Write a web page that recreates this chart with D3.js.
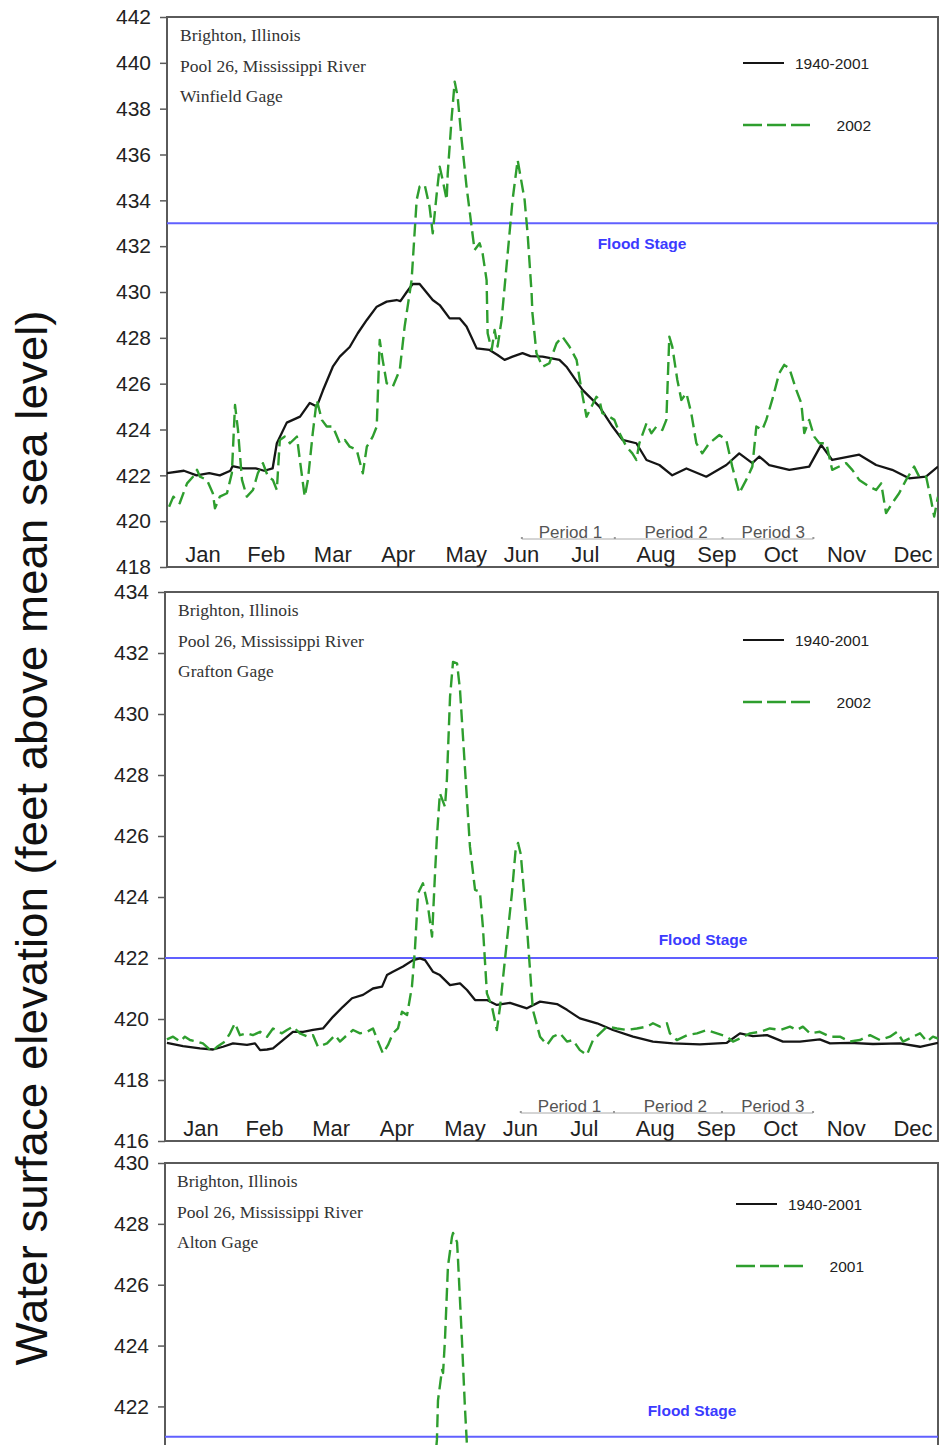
<!DOCTYPE html>
<html><head><meta charset="utf-8">
<script src="https://cdn.jsdelivr.net/npm/d3@7"></script>
<style>body{margin:0;background:#fff} svg{display:block}</style>
</head><body>
<script>
// ---------- DATA ----------
const months = ["Jan","Feb","Mar","Apr","May","Jun","Jul","Aug","Sep","Oct","Nov","Dec"];
const monthLabelDays = [17, 47, 78.5, 109.5, 141.7, 167.8, 198, 231.5, 260.3, 290.6, 321.7, 353.2];
const periodNames = ["Period 1", "Period 2", "Period 3"];
const periodBounds = [168, 212, 263, 306];
const periodLabelDays = [191, 241, 287];

const winfieldTicks = [418,420,422,424,426,428,430,432,434,436,438,440,442];
const graftonTicks = [416,418,420,422,424,426,428,430,432,434];
const altonTicks = [422,424,426,428,430];   // lower ticks fall below the cropped picture

const winfieldFlood = 433, graftonFlood = 422, altonFlood = 421;

// [day of year, elevation ft]
const winfieldAvg = [[0,422.1],[8,422.2],[14,422.0],[20,422.1],[25,422.0],[30,422.2],[31,422.4],[36,422.3],[42,422.3],[46,422.2],[50,422.3],[52,423.4],[56.7,424.3],[63,424.56],[67.6,425.16],[70.9,425.0],[73.8,425.7],[78.5,426.74],[81.8,427.18],[86.5,427.6],[90.3,428.2],[94.6,428.78],[99.3,429.36],[104,429.58],[108.7,429.65],[110.5,429.6],[113.5,430.0],[116.3,430.35],[119.6,430.35],[125.8,429.65],[129.1,429.43],[133.8,428.85],[138.5,428.85],[141.8,428.49],[146.6,427.54],[152.7,427.47],[156.5,427.25],[159.8,427.04],[163.6,427.18],[168.3,427.33],[172,427.2],[177.8,427.18],[185.8,427.04],[189.1,426.74],[196.7,425.73],[204.7,425.0],[210.9,424.13],[215.6,423.55],[222.2,423.4],[227,422.67],[233.1,422.45],[239.2,422.0],[245.9,422.3],[255.3,421.94],[264.8,422.45],[270.9,422.96],[277.1,422.53],[280.4,422.82],[285.1,422.45],[294.6,422.24],[304,422.38],[309.7,423.33],[314.9,422.67],[327.7,422.9],[335.7,422.45],[343.3,422.24],[351.3,421.87],[359.3,421.94],[365,422.38]];

const winfield2002 = [[1,420.63],[3,421.07],[6,420.78],[9.5,421.65],[12.3,421.94],[14.2,422.24],[15.6,421.94],[18.9,421.8],[21.7,421.22],[22.7,420.56],[25,421.07],[28.4,421.22],[30.7,422.09],[32.2,425.07],[33.6,423.98],[35.5,421.8],[37.8,421.07],[40.7,421.36],[43,422.09],[45.4,422.53],[47.8,421.94],[50.1,421.8],[52,421.36],[53.4,423.54],[55.8,423.69],[58.2,423.4],[61.5,423.69],[62.9,422.67],[65.2,421.07],[66.7,421.8],[69,423.84],[70.9,425.29],[73.3,424.42],[75.6,424.13],[78.5,424.13],[81.8,423.4],[84.2,423.54],[86.5,423.25],[89.8,423.11],[92.7,422.09],[94.6,423.25],[97.4,423.69],[99.3,424.13],[100.7,427.91],[102.1,427.04],[104,426.02],[106.9,425.87],[110.2,426.6],[112.5,428.49],[115.8,430.52],[118.2,434.02],[119.6,434.6],[122,434.67],[124.3,433.72],[125.8,432.56],[127.7,434.3],[129.1,435.47],[130.5,434.89],[132.4,434.02],[132.9,435.18],[134.8,437.65],[136.2,439.18],[137.6,438.52],[139.5,436.63],[141.8,434.6],[144.2,432.85],[145.6,431.83],[148,432.13],[149.4,431.69],[151.3,430.52],[151.8,428.2],[153.7,427.47],[155.1,428.34],[156.5,427.62],[158.4,428.78],[163.6,434.02],[166,435.76],[169.3,434.02],[170.7,432.56],[172.6,429.96],[173,429.08],[174.9,427.33],[177.8,426.74],[181,426.89],[184.4,427.76],[187.2,428.05],[190.5,427.62],[193.9,427.04],[196.2,425.73],[198.6,424.56],[201,425.0],[203.3,425.43],[204.7,425.3],[206.1,424.71],[209.5,424.56],[211.8,424.42],[214.2,423.84],[217.5,423.25],[220.3,422.96],[222.2,422.67],[223.6,423.4],[227,424.27],[229.3,423.84],[231.7,424.13],[234.5,423.98],[236.4,424.42],[237.8,428.05],[239.2,427.62],[241.6,426.16],[243.5,425.29],[245.9,425.58],[248.2,424.71],[250.6,423.4],[253.4,422.96],[256.7,423.4],[261.5,423.76],[264.8,423.54],[267.6,422.38],[270.9,421.22],[274.2,421.8],[277.1,422.38],[279,424.13],[281.8,423.98],[283.7,424.42],[286.5,425.29],[289.8,426.45],[292.2,426.82],[294.6,426.67],[297.9,425.73],[300.3,425.14],[301.7,423.84],[304,424.42],[306.4,423.69],[308.8,423.4],[312.1,423.4],[314.9,422.24],[321.5,422.53],[324.4,422.24],[327.7,421.8],[332.4,421.51],[335.7,421.36],[338.1,421.65],[340.4,420.35],[343.3,420.78],[346.6,421.22],[349.9,421.8],[353.7,422.38],[356.1,421.94],[359.4,421.94],[361.7,420.93],[363.2,420.2],[365,421.07]];

const graftonAvg = [[0.9,419.22],[8.5,419.11],[16.5,419.04],[22.7,419.0],[27.4,419.09],[32.1,419.2],[38.7,419.15],[42.5,419.2],[44.9,418.98],[48.2,419.0],[51,419.04],[55.7,419.31],[60.4,419.58],[65.2,419.58],[69.9,419.64],[74.6,419.69],[79.3,420.07],[84,420.4],[88.3,420.68],[93.5,420.79],[98.2,421.0],[102.5,421.06],[104.8,421.44],[107.6,421.55],[112.4,421.72],[117.1,421.93],[120.4,421.99],[122.8,421.93],[126.5,421.55],[129.8,421.44],[134.6,421.11],[139.3,421.17],[142.6,420.95],[146.4,420.62],[152,420.62],[156.7,420.46],[162.9,420.53],[170.9,420.35],[177.1,420.57],[185.1,420.49],[189.8,420.3],[195.9,420.02],[204,419.86],[211.5,419.64],[221,419.42],[230.4,419.26],[239.8,419.2],[252.6,419.17],[265.3,419.22],[271.5,419.53],[277.6,419.44],[284.3,419.47],[291.8,419.26],[299.8,419.26],[309.2,419.33],[314,419.2],[323.4,419.22],[334.3,419.18],[347,419.2],[356.5,419.09],[365,419.22]];

const grafton2002 = [[0.9,419.33],[3.8,419.42],[7.1,419.26],[9.4,419.42],[11.8,419.31],[15.1,419.26],[17.9,419.2],[22.2,418.93],[24.6,419.09],[28.3,419.26],[30.7,419.53],[33,419.86],[35.4,419.47],[38.7,419.53],[41.5,419.47],[44.9,419.58],[48.2,419.42],[51,419.69],[55.2,419.53],[57.6,419.64],[60.4,419.75],[63.7,419.53],[67.5,419.42],[69.9,419.47],[72.2,419.09],[76.5,419.2],[80.3,419.47],[82.6,419.26],[85.9,419.47],[88.8,419.64],[92.1,419.53],[95.4,419.58],[98.2,419.69],[100.6,419.26],[102.9,418.87],[105.3,419.15],[107.6,419.53],[110,419.69],[111.9,420.24],[114.3,420.13],[116.6,421.06],[118,422.26],[119.5,424.12],[121.8,424.45],[124.2,423.68],[126.1,422.7],[127.5,424.78],[128.4,425.98],[129.8,427.4],[132.2,426.96],[133.1,427.84],[134.6,430.57],[136,431.71],[137.9,431.66],[139.3,430.79],[141.6,428.27],[144,425.65],[146.4,424.23],[148.7,424.17],[150.1,423.02],[152,420.84],[154.4,420.4],[156.7,419.64],[158.2,420.4],[160.5,421.93],[163.8,424.12],[165.5,425.5],[166.7,425.77],[168,425.4],[170.9,423.02],[173.7,420.3],[177.1,419.42],[180.4,419.15],[183.2,419.42],[186.5,419.53],[189.8,419.26],[192.6,419.31],[195.9,418.98],[199.2,418.82],[202.1,419.31],[205.4,419.53],[208.7,419.75],[213.4,419.69],[218.1,419.64],[222.8,419.69],[227.6,419.75],[230.4,419.86],[233.7,419.75],[237,419.86],[238.4,419.53],[241.7,419.31],[246.5,419.47],[251.2,419.53],[255.9,419.64],[260.6,419.53],[265.3,419.42],[268.2,419.26],[271.5,419.36],[276.2,419.53],[281,419.58],[285.6,419.69],[290.4,419.64],[295.1,419.75],[298.4,419.64],[301.2,419.75],[304.5,419.53],[309.2,419.58],[314,419.42],[318.7,419.42],[323.4,419.26],[328.1,419.31],[332.9,419.47],[337.6,419.31],[342.3,419.42],[345.6,419.58],[348.5,419.26],[353.2,419.42],[356.5,419.53],[359.8,419.26],[362.6,419.42],[365,419.36]];

// Alton: only the flood crest is visible in the picture; other values are rough estimates (below view)
const altonAvg = [[0,418.6],[60,418.8],[100,419.4],[120,419.9],[150,419.4],[200,418.9],[260,418.6],[365,418.6]];
const alton2001 = [[0,418.6],[60,418.8],[100,419.0],[120,419.3],[127,419.8],[128.4,420.9],[128.9,422.2],[130.8,423.2],[131.3,423.1],[132.2,424.2],[133.6,426.6],[135.5,427.57],[136,427.7],[137.9,427.4],[138.3,426.9],[140.2,424.2],[141.6,422.0],[142.6,420.7],[144,419.5],[150,419.0],[200,418.7],[365,418.6]];

// ---------- DRAW ----------
const W = 940, H = 1445;
const svg = d3.select("body").append("svg").attr("width", W).attr("height", H);
const SANS = "'Liberation Sans', Arial, sans-serif";
const SERIF = "'Liberation Serif', 'Times New Roman', serif";
const GREEN = "#2e9e2e", BLUE = "#6060ff", FRAME = "#5a5a5a";

const panels = [
  {id:"p1", left:167, right:938, top:17, bottom:567, dom:[418,442], ticks:winfieldTicks, avg:winfieldAvg, cur:winfield2002,
   flood:winfieldFlood, gage:"Winfield Gage", curName:"2002", tx:180, ty:41, lx:743, ly:63, fx:642, fy:249, bottomLabels:true},
  {id:"p2", left:165, right:938, top:592, bottom:1141, dom:[416,434], ticks:graftonTicks, avg:graftonAvg, cur:grafton2002,
   flood:graftonFlood, gage:"Grafton Gage", curName:"2002", tx:178, ty:616, lx:743, ly:640, fx:703, fy:945, bottomLabels:true},
  {id:"p3", left:165, right:938, top:1163, bottom:1589, dom:[416,430], ticks:altonTicks, avg:altonAvg, cur:alton2001,
   flood:altonFlood, gage:"Alton Gage", curName:"2001", tx:177, ty:1187, lx:736, ly:1204, fx:692, fy:1416, bottomLabels:false}
];

panels.forEach(p => {
  const x = d3.scaleLinear().domain([0, 365]).range([p.left, p.right]);
  const y = d3.scaleLinear().domain(p.dom).range([p.bottom, p.top]);
  const g = svg.append("g");

  g.append("clipPath").attr("id", "clip-" + p.id).append("rect")
    .attr("x", p.left).attr("y", p.top).attr("width", p.right - p.left).attr("height", p.bottom - p.top);

  // frame
  g.append("rect").attr("x", p.left).attr("y", p.top).attr("width", p.right - p.left).attr("height", p.bottom - p.top)
    .attr("fill", "none").attr("stroke", FRAME).attr("stroke-width", 2);

  // y axis
  const ax = g.append("g").attr("transform", `translate(${p.left},0)`)
    .call(d3.axisLeft(y).tickValues(p.ticks).tickSize(7).tickPadding(9).tickFormat(d3.format("d")));
  ax.select(".domain").remove();
  ax.selectAll("line").attr("stroke", FRAME).attr("stroke-width", 1.5);
  ax.selectAll("text").attr("font-family", SANS).attr("font-size", 21).attr("fill", "#222");

  // flood stage
  g.append("line").attr("x1", p.left).attr("x2", p.right).attr("y1", y(p.flood)).attr("y2", y(p.flood))
    .attr("stroke", BLUE).attr("stroke-width", 2);
  g.append("text").attr("x", p.fx).attr("y", p.fy).attr("text-anchor", "middle")
    .attr("font-family", SANS).attr("font-weight", "bold").attr("font-size", 15.5).attr("fill", "#3b3bff").text("Flood Stage");

  // series
  const line = d3.line().x(d => x(d[0])).y(d => y(d[1])).curve(d3.curveLinear);
  const lg = g.append("g").attr("clip-path", `url(#clip-${p.id})`);
  lg.append("path").datum(p.avg).attr("d", line).attr("fill", "none")
    .attr("stroke", "#151515").attr("stroke-width", 2.3).attr("stroke-linejoin", "round");
  lg.append("path").datum(p.cur).attr("d", line).attr("fill", "none")
    .attr("stroke", GREEN).attr("stroke-width", 2.4).attr("stroke-dasharray", "13,6").attr("stroke-linejoin", "round");

  if (p.bottomLabels) {
    // month labels
    g.selectAll(".mon").data(months).enter().append("text")
      .attr("x", (d, i) => x(monthLabelDays[i])).attr("y", p.bottom - 5)
      .attr("text-anchor", "middle").attr("font-family", SANS).attr("font-size", 22).attr("fill", "#222").text(d => d);

    // periods
    const py = p.bottom - 28;
    g.append("line").attr("x1", x(periodBounds[0])).attr("x2", x(periodBounds[periodBounds.length - 1]))
      .attr("y1", py).attr("y2", py).attr("stroke", "#aaa").attr("stroke-width", 1);
    g.selectAll(".pb").data(periodBounds).enter().append("rect")
      .attr("x", d => x(d) - 1).attr("y", py - 2).attr("width", 2).attr("height", 2).attr("fill", "#999");
    g.selectAll(".pl").data(periodNames).enter().append("text")
      .attr("x", (d, i) => x(periodLabelDays[i])).attr("y", py - 1).attr("text-anchor", "middle")
      .attr("font-family", SANS).attr("font-size", 17).attr("fill", "#555").text(d => d);
  }

  // site text
  ["Brighton, Illinois", "Pool 26, Mississippi River", p.gage].forEach((t, i) => {
    g.append("text").attr("x", p.tx).attr("y", p.ty + i * 30.5).attr("font-family", SERIF)
      .attr("font-size", 17.5).attr("fill", "#333").text(t);
  });

  // legend
  g.append("line").attr("x1", p.lx).attr("x2", p.lx + 41).attr("y1", p.ly).attr("y2", p.ly)
    .attr("stroke", "#151515").attr("stroke-width", 2.2);
  g.append("text").attr("x", p.lx + 52).attr("y", p.ly + 5.5).attr("font-family", SANS).attr("font-size", 15.5)
    .attr("fill", "#222").text("1940-2001");
  g.append("line").attr("x1", p.lx).attr("x2", p.lx + 67).attr("y1", p.ly + 62).attr("y2", p.ly + 62)
    .attr("stroke", GREEN).attr("stroke-width", 2.4).attr("stroke-dasharray", "19,5");
  g.append("text").attr("x", p.lx + 128).attr("y", p.ly + 67.5).attr("text-anchor", "end").attr("font-family", SANS)
    .attr("font-size", 15.5).attr("fill", "#222").text(p.curName);
});

// y-axis title
svg.append("text").attr("transform", "translate(47,838) rotate(-90)").attr("text-anchor", "middle")
  .attr("font-family", SANS).attr("font-size", 44).attr("fill", "#111")
  .attr("textLength", 1055).attr("lengthAdjust", "spacingAndGlyphs")
  .text("Water surface elevation (feet above mean sea level)");
</script>
</body></html>
